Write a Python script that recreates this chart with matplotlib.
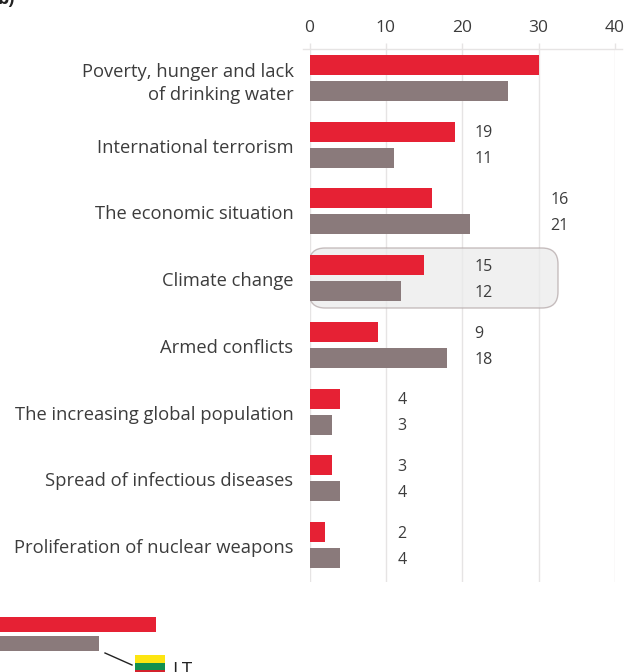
import matplotlib.pyplot as plt
from matplotlib.lines import Line2D
from matplotlib.patches import FancyBboxPatch, Rectangle
from matplotlib.transforms import Affine2D, ScaledTranslation

plt.rcParams['font.family'] = ['Open Sans', 'DejaVu Sans']

categories = ['Poverty, hunger and lack\nof drinking water', 'International terrorism',
              'The economic situation', 'Climate change', 'Armed conflicts',
              'The increasing global population', 'Spread of infectious diseases',
              'Proliferation of nuclear weapons']
red_vals = [30, 19, 16, 15, 9, 4, 3, 2]
gray_vals = [26, 11, 21, 12, 18, 3, 4, 4]
# the labels do not sit at the bar ends in the original, first group has none
label_cols = [None, 21.6, 31.5, 21.6, 21.6, 11.5, 11.5, 11.5]
xticks = [0, 10, 20, 30, 40]
# piece of the next panel cut off at the bottom edge
next_red = 20.4
next_gray = 13.0

W, H = 626, 672
RED = '#e62134'
GRAY = '#8a7a7b'
GRID = '#e6e4e4'
TXT = '#3c3c3c'


def fx(px):
    return px / W


def fy(py):
    return 1 - py / H


fig = plt.figure(figsize=(W / 100, H / 100), dpi=100)
ax = fig.add_axes([fx(309.5), fy(582), (615 - 309.5) / W, (582 - 49) / H])
ax.set_xlim(0, 40)
ax.set_ylim(7.555, -0.435)
for s in ax.spines.values():
    s.set_visible(False)

ys = list(range(len(categories)))
ax.barh([y - 0.195 for y in ys], red_vals, height=0.3, color=RED, zorder=3)
ax.barh([y + 0.195 for y in ys], gray_vals, height=0.3, color=GRAY, zorder=3)

ax.xaxis.tick_top()
ax.set_xticks(xticks)
ax.tick_params(axis='x', length=4.5, width=1, color=GRID, labelsize=12.5, labelcolor=TXT, pad=5)
ax.grid(axis='x', color=GRID, lw=1, zorder=1)
ax.set_axisbelow(True)
ax.set_yticks(ys)
ax.set_yticklabels(categories, fontsize=13.2, color=TXT, linespacing=1.35)
ax.tick_params(axis='y', length=0, pad=11.5)
down = ScaledTranslation(0, -1 / 100, fig.dpi_scale_trans)
for lab in ax.get_yticklabels():
    lab.set_transform(lab.get_transform() + down)

for y, col, r, g in zip(ys, label_cols, red_vals, gray_vals):
    if col is None:
        continue
    ax.text(col, y - 0.17, str(r), va='center', fontsize=11.5, color=TXT, zorder=4)
    ax.text(col, y + 0.22, str(g), va='center', fontsize=11.5, color=TXT, zorder=4)

# highlight round Climate change
hl = FancyBboxPatch((323, 262), 221, 32, boxstyle='round,pad=14,rounding_size=16',
                    fc='#ebebeb', ec='#b5a9aa', lw=1, alpha=0.75, zorder=2)
hl.set_transform(Affine2D().scale(1, -1).translate(0, H))
ax.add_patch(hl)

# top rule
fig.add_artist(Line2D([fx(303), fx(622)], [fy(49), fy(49)], color=GRID, lw=1))

# next panel
ax2 = fig.add_axes([0, fy(653), 152.8 / W, (653 - 615) / H])
ax2.set_xlim(0, 20)
ax2.set_ylim(1.5, -0.5)
ax2.axis('off')
ax2.barh([0, 1], [next_red, next_gray], height=0.84, color=[RED, GRAY], clip_on=False)

# flag and callout
fig.add_artist(Line2D([fx(105), fx(132)], [fy(653), fy(665)], color='#222222', lw=1))
for top, bottom, c in [(655, 663, '#fde511'), (663, 670, '#12904f'), (670, 672, '#d3222c')]:
    fig.add_artist(Rectangle((fx(135), fy(bottom)), 30 / W, (bottom - top) / H,
                             transform=fig.transFigure, fc=c, ec='none'))
fig.text(fx(172), fy(675), 'LT', fontsize=13.5, color='#222222')
fig.text(fx(-2), fy(4), 'b)', fontsize=13, fontweight='bold', color='#222222')

fig.savefig('out.png', dpi=100)
